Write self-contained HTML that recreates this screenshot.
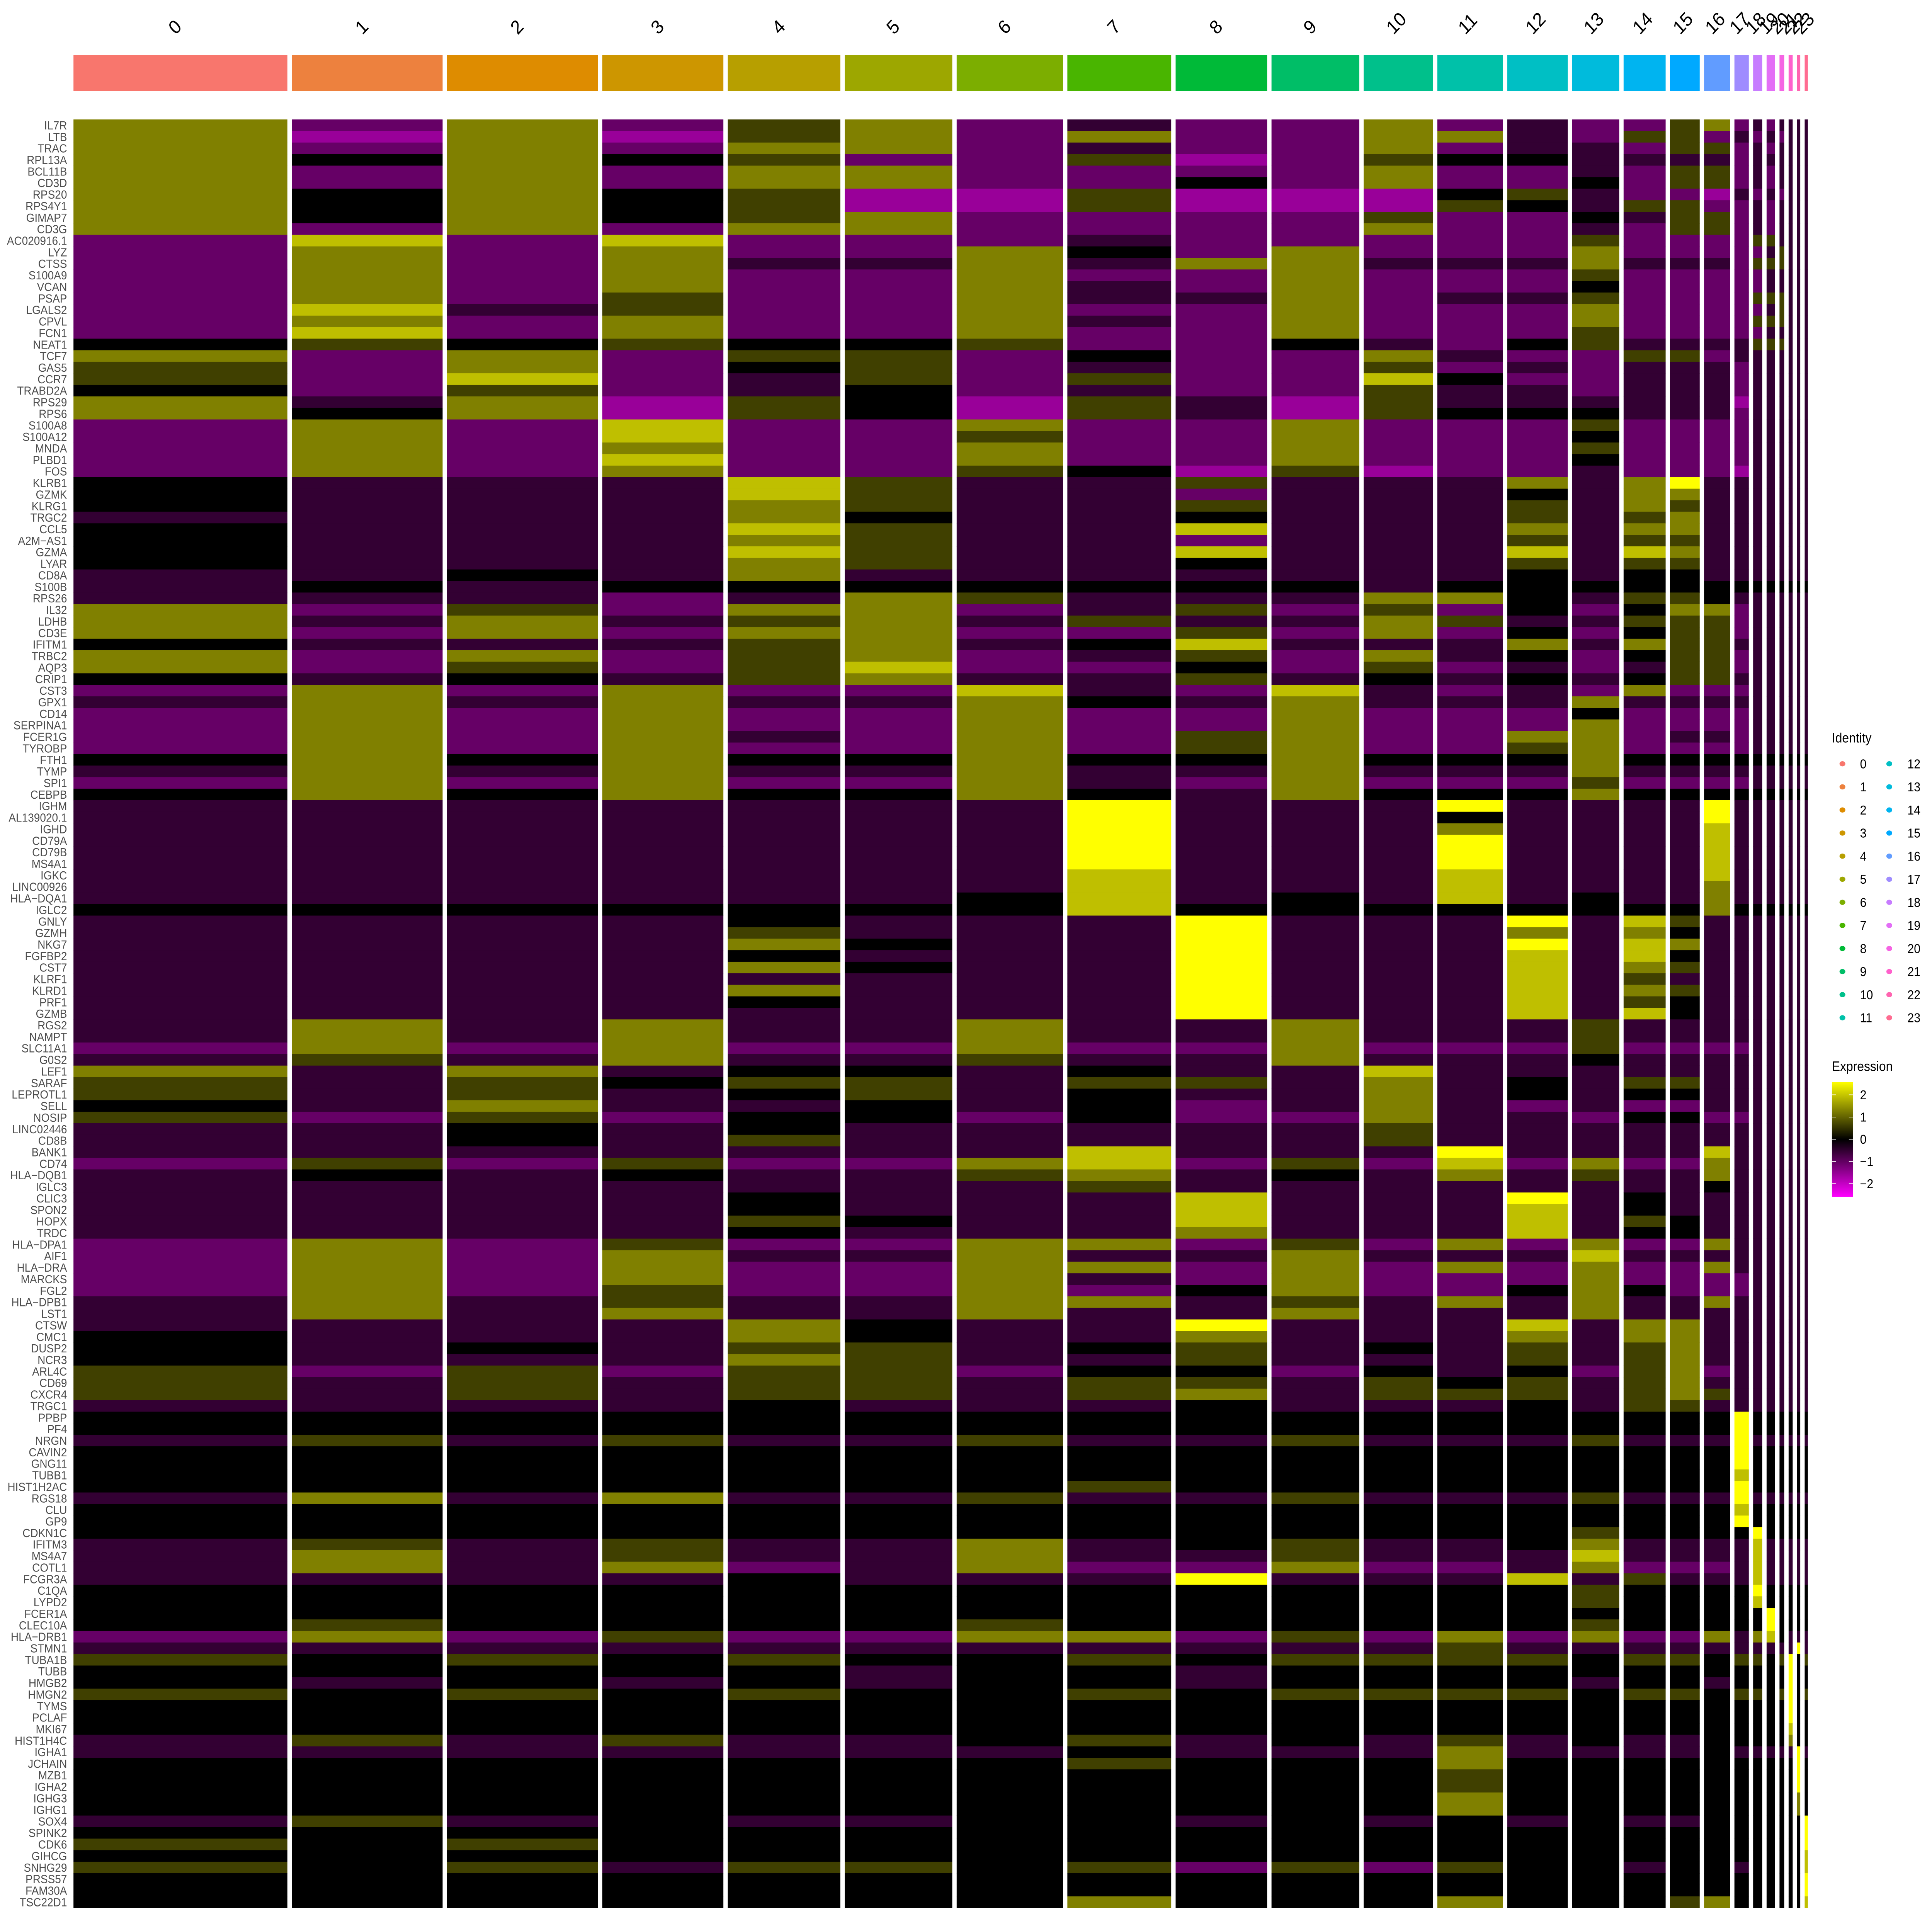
<!DOCTYPE html>
<html><head><meta charset="utf-8"><style>
html,body{margin:0;padding:0;background:#fff;overflow:hidden;width:100%;height:100%;}
svg{display:block;font-family:"Liberation Sans",sans-serif;width:100vw;height:100vh;}
</style></head><body>
<svg id="chart" viewBox="0 0 6600 6000" preserveAspectRatio="none" xmlns="http://www.w3.org/2000/svg"></svg>
<script>
const genes = ["IL7R","LTB","TRAC","RPL13A","BCL11B","CD3D","RPS20","RPS4Y1","GIMAP7","CD3G",
"AC020916.1","LYZ","CTSS","S100A9","VCAN","PSAP","LGALS2","CPVL","FCN1","NEAT1",
"TCF7","GAS5","CCR7","TRABD2A","RPS29","RPS6",
"S100A8","S100A12","MNDA","PLBD1","FOS",
"KLRB1","GZMK","KLRG1","TRGC2","CCL5","A2M\u2212AS1","GZMA","LYAR","CD8A","S100B",
"RPS26","IL32","LDHB","CD3E","IFITM1","TRBC2","AQP3","CRIP1",
"CST3","GPX1","CD14","SERPINA1","FCER1G","TYROBP","FTH1","TYMP","SPI1","CEBPB",
"IGHM","AL139020.1","IGHD","CD79A","CD79B","MS4A1","IGKC","LINC00926","HLA\u2212DQA1","IGLC2",
"GNLY","GZMH","NKG7","FGFBP2","CST7","KLRF1","KLRD1","PRF1","GZMB",
"RGS2","NAMPT","SLC11A1","G0S2",
"LEF1","SARAF","LEPROTL1","SELL","NOSIP","LINC02446","CD8B",
"BANK1","CD74","HLA\u2212DQB1","IGLC3",
"CLIC3","SPON2","HOPX","TRDC",
"HLA\u2212DPA1","AIF1","HLA\u2212DRA","MARCKS","FGL2","HLA\u2212DPB1","LST1",
"CTSW","CMC1","DUSP2","NCR3","ARL4C","CD69","CXCR4","TRGC1",
"PPBP","PF4","NRGN","CAVIN2","GNG11","TUBB1","HIST1H2AC","RGS18","CLU","GP9",
"CDKN1C","IFITM3","MS4A7","COTL1","FCGR3A","C1QA","LYPD2",
"FCER1A","CLEC10A","HLA\u2212DRB1",
"STMN1","TUBA1B","TUBB","HMGB2","HMGN2","TYMS","PCLAF","MKI67","HIST1H4C",
"IGHA1","JCHAIN","MZB1","IGHA2","IGHG3","IGHG1",
"SOX4","SPINK2","CDK6","GIHCG","SNHG29","PRSS57","FAM30A","TSC22D1"];
const clusters = ["0","1","2","3","4","5","6","7","8","9","10","11","12","13","14","15","16","17","18","19","20","21","22","23"];
const cellCounts = [173,122,122,98,91,87,86,84,74,71,56,53,49,38,34,24,21,11.6,7.3,6.9,3.8,3.3,2.6,2.6];
// mean scaled expression per gene per cluster, digit d -> d/2 - 2
const exprRows = [
"626256232262322562323333","616156262266325523232333","626266232262332552323333","646452251254433332333333",
"626266222262232552323333","626266224262242552323333","646451151114532213232333","646451151115435522323333",
"646456222252243552323333","626266222262232552323333",
"272722232222252222553333","262622642622262222235333","262633636633363332555333","262622622622252222233333",
"262622632622242222233333","262522633623352222555333","273522622622262222235333","262622632622262222555333",
"272622622622252222233333","454544522432453333555333",
"626255242263225523333333","526245232252323332333333","527235252274223332333333","425234232253323332333333",
"636154153153333331333333","646154153154443332333333",
"262722622622252222333333","262722522622242222333333","262622622622252222333333","262722622622242222333333",
"262622541512232221333333",
"433375335333636833333333","433375332333436633333333","433365335333536533333333","333364334333535633333333",
"433375337333636633333333","433365332333535533333333","433375337333737633333333","433365334333535533333333",
"334363333333434433333333","343444444434444444444444",
"333236533366435543333333","625266235252424662333333","636356353365335552333333","626266225262424552333333",
"433356347333636553333333","626256235263424552333333","625257224252323552333333","434356335343434553333333",
"262622732732326222333333","363633643633363333333333","262622622622242222333333","262622622622262222333333",
"262632625622662332333333","262622625622562222333333","464644644644464444444444","363633633633363333333333",
"262622632622252222333333","464644643644464444444444",
"333333383338333383333333","333333383334333383333333","333333383336333373333333","333333383338333373333333",
"333333383338333373333333","333333383338333373333333","333333373337333373333333","333333373337333363333333",
"333333473437343363333333","444444474444444464444444",
"333343338333837533333333","333353338333636433333333","333364338333837633333333","333343338333737433333333",
"333364338333736533333333","333333338333735333333333","333363338333736533333333","333343338333735433333333",
"333333338333737433333333",
"363633633633353333333333","363633633633353333333333","262622622622252222333333","353633533633343333333333",
"636344343373333333333333","535455355363435533333333","535345343363434433333333","436334342363232233333333",
"525244242263324422333333","334343333353333333333333","334353333353333333333333",
"333333373338333373333333","252522672527262263333333","343433563436353363333333","333333353333333343333333",
"333343337333834333333333","333343337333734333333333","333354337333735433333333","333343336333734433333333",
"262522662526262263333333","262633633633373333333333","262622662626262263333333","262622632622262222333333",
"262522624622464222333333","363533663536363363333333","363633633633363333333333",
"333364338333736633333333","433364336333636633333333","434355345343535633333333","433365335333535633333333",
"525255244243425623333333","535355355354535633333333","535355356355535653333333","333343334333435533333333",
"444444444444444448444444","444444444444444448444444","353533533533353338333333","444444444444444448444444",
"444444444444444448444444","444444444444444447444444","444444454444444448444444","363633533533353338333333",
"444444444444444447444444","444444444444444448444444",
"444444444444454444844444","353533634533463333733333","363533633533373333733333","363623622622362223733333",
"333343338333735333733333","444444444444454444844444","444444444444454444744444",
"444444444444444444484444","454444544444454444484444","262522662526262263674333",
"333333333335333333333383","545454454555545545545845","444443443444444444444844","434343443444434434444844",
"545454454555545545545845","444444444444444444444844","444444444444444444444844","444444444444444444444744",
"353533453435343344444644",
"333333343336333343333383","444444454446444444444484","444444444445444444444484","444444444445444444444484",
"444444444446444444444464","444444444446444444444464",
"353433443434343344444448","444444444444444444444448","545444444444444444444448","444444444444444444444447",
"545355452525443443444447","444444444444444444444448","444444444444444444444448","444444464446444564444447"
];

const NS = "http://www.w3.org/2000/svg";
const svgRoot = document.getElementById("chart");
function el(tag, attrs, par){ const e=document.createElementNS(NS,tag); for(const k in attrs) e.setAttribute(k,attrs[k]); (par||svgRoot).appendChild(e); return e; }

function hcl(h,c,l){
  const hr=h*Math.PI/180; const U=c*Math.cos(hr), V=c*Math.sin(hr);
  const Xn=95.047,Yn=100,Zn=108.883;
  const un=4*Xn/(Xn+15*Yn+3*Zn), vn=9*Yn/(Xn+15*Yn+3*Zn);
  const Y = l>8 ? Yn*Math.pow((l+16)/116,3) : Yn*l/903.3;
  const u=U/(13*l)+un, v=V/(13*l)+vn;
  const X=9*Y*u/(4*v), Z=-X/3-5*Y+3*Y/v;
  const rr= 3.240479*X-1.537150*Y-0.498535*Z, gg=-0.969256*X+1.875992*Y+0.041556*Z, bb=0.055648*X-0.204043*Y+1.057311*Z;
  const gam=x=>{x/=100; x = x<=0.0031308?12.92*x:1.055*Math.pow(x,1/2.4)-0.055; return Math.max(0,Math.min(255,Math.round(x*255)));};
  return "rgb("+gam(rr)+","+gam(gg)+","+gam(bb)+")";
}
const nC = clusters.length;
const clusterColors = clusters.map((c,i)=>hcl(15+360*i/nC,100,65));

function exprColor(v){
  if(isNaN(v)) v=0;
  if(v>=0){const k=Math.round(255*Math.min(1,v/2)); return "rgb("+k+","+k+",0)";}
  const k=Math.round(255*Math.min(1,-v/2.5)); return "rgb("+k+",0,"+k+")";
}

const leftX=251, rightX=6176, gapX=15, topY=371, bottomY=5925;
const totalCells=cellCounts.reduce((a,b)=>a+b,0);
const unitW=(rightX-leftX-gapX*(nC-1))/totalCells;
const xStart=[]; let curX=leftX;
cellCounts.forEach((n)=>{xStart.push(curX); curX+=n*unitW+gapX;});
const rowH=(bottomY-topY)/genes.length;
const xScale = i => xStart[i];
const wScale = i => cellCounts[i]*unitW;
const yScale = r => topY + r*rowH;

clusters.forEach((c,i)=>{
  const r=el("rect",{x:xScale(i),y:171,width:wScale(i),height:111,fill:clusterColors[i]});
  
  
  const cxm=xScale(i)+wScale(i)/2-16;
  const t=el("text",{x:cxm,y:110,"font-size":60,fill:"#000",transform:"rotate(-45 "+cxm+" 110)"});
  t.textContent=c;
  
  
});

const hm=el("g",{});


genes.forEach((g,r)=>{
  const row=exprRows[r]||"";
  for(let i=0;i<nC;i++){
    const v=parseInt(row.charAt(i)||"4",10)/2-2;
    const rc=el("rect",{x:xScale(i),y:yScale(r),width:wScale(i),height:rowH+0.6,fill:exprColor(v)},hm);
    
    
  }
  const t=el("text",{x:229,y:yScale(r)+rowH*0.5+13,"font-size":37,fill:"#4d4d4d","text-anchor":"end"});
  t.textContent=g;
  
  
});

const idT=el("text",{x:6258,y:2306,"font-size":42,fill:"#000"});
idT.textContent="Identity";


clusters.forEach((c,i)=>{
  const col=Math.floor(i/12), rw=i%12;
  const y=2372+rw*71.7;
  const dx= col===0?6294:6454, lx= col===0?6354:6516;
  const d=el("ellipse",{cx:dx,cy:y,rx:10,ry:8,fill:clusterColors[i]});
  
  
  const t=el("text",{x:lx,y:y+14,"font-size":40,fill:"#000"});
  t.textContent=c;
  
  
});

const exT=el("text",{x:6258,y:3326,"font-size":42,fill:"#000"});
exT.textContent="Expression";


const defs=el("defs",{});
const lg=el("linearGradient",{id:"expg",x1:0,y1:0,x2:0,y2:1},defs);
el("stop",{offset:"0","stop-color":"rgb(255,255,0)"},lg);
el("stop",{offset:"0.5","stop-color":"#000"},lg);
el("stop",{offset:"1","stop-color":"rgb(255,0,255)"},lg);
const cb=el("rect",{x:6258,y:3360,width:72,height:357,fill:"url(#expg)"});


const tickVals=[2,1,0,-1,-2];
const tickLabels=["2","1","0","\u22121","\u22122"];
tickVals.forEach((v,k)=>{
  const y=3538-v*69;
  el("line",{x1:6258,x2:6272,y1:y,y2:y,stroke:"#fff","stroke-width":2});
  el("line",{x1:6316,x2:6330,y1:y,y2:y,stroke:"#fff","stroke-width":2});
  const t=el("text",{x:6354,y:y+14,"font-size":40,fill:"#000"});
  t.textContent=tickLabels[k];
  
  
});
</script>
</body></html>
